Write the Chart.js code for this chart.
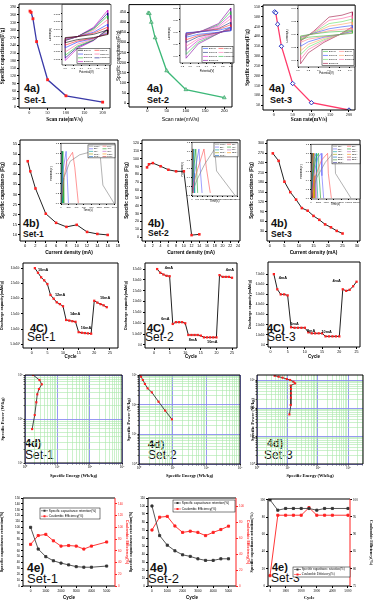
<!DOCTYPE html>
<html>
<head>
<meta charset="utf-8">
<title>Figure 4 - Set-1 / Set-2 / Set-3</title>
<script src="https://cdn.jsdelivr.net/npm/chart.js@4.4.1/dist/chart.umd.min.js"></script>
<style>
html, body { margin: 0; padding: 0; background: #fff; }
body { position: relative; width: 373px; height: 607px; overflow: hidden; }
canvas { position: absolute; }
.tag { position: absolute; font-family: "Liberation Sans", Arial, sans-serif; color: #111; line-height: 1; white-space: nowrap; }
.b { font-weight: bold; }
</style>
</head>
<body>
<div id="tags"></div>
<script>
// ---------- 4a: specific capacitance vs scan rate ----------
const scanRate = [2, 5, 10, 20, 50, 100, 200];
const cap4aSet1 = [375, 370, 345, 255, 105, 42, 17];
const cap4aSet2 = [445, 443, 400, 323, 160, 67, 27];
const cap4aSet3 = [525, 520, 462, 350, 160, 62, 25];
const scanTicks = [0, 50, 100, 150, 200];
const capTicks4a1 = [0, 30, 60, 90, 120, 150, 180, 210, 240, 270, 300, 330, 360, 390];
const capTicks4a2 = [0, 50, 100, 150, 200, 250, 300, 350, 400, 450];
const capTicks4a3 = [50, 100, 150, 200, 250, 300, 350, 400, 450, 500, 550];

// CV insets (potential V, current A), one loop per scan rate
const cvRates = ['2mV/s', '5mV/s', '10mV/s', '20mV/s', '50mV/s', '100mV/s', '200mV/s'];
const cvPot1 = [0, 0.3, 0.7, 1.05, 1.05, 0.7, 0.3, 0, 0];
const cvCur1 = [
  [-0.0005, 0, 0.0012, 0.0035, 0.0011, -0.0005, -0.0016, -0.0032, -0.0005],
  [-0.0008, 0, 0.0018, 0.005, 0.0015, -0.0008, -0.0023, -0.0045, -0.0008],
  [-0.001, 0, 0.0023, 0.0065, 0.002, -0.001, -0.0029, -0.0059, -0.001],
  [-0.0014, 0, 0.0032, 0.009, 0.0027, -0.0014, -0.004, -0.0081, -0.0014],
  [-0.0017, 0, 0.0039, 0.011, 0.0033, -0.0017, -0.005, -0.0099, -0.0017],
  [-0.0019, 0, 0.0044, 0.0125, 0.0038, -0.0019, -0.0056, -0.0113, -0.0019],
  [-0.0021, 0, 0.0049, 0.014, 0.0042, -0.0021, -0.0063, -0.0126, -0.0021]
];
const cvPot2 = [-0.1, 0.3, 0.7, 1.0, 1.0, 0.6, 0.2, -0.1, -0.1];
const cvCur2 = [
  [-0.003, 0.001, 0.007, 0.02, 0.004, -0.003, -0.01, -0.022, -0.003],
  [-0.005, 0.002, 0.011, 0.03, 0.006, -0.005, -0.015, -0.033, -0.005],
  [-0.006, 0.002, 0.014, 0.04, 0.008, -0.006, -0.02, -0.044, -0.006],
  [-0.008, 0.003, 0.019, 0.055, 0.011, -0.008, -0.028, -0.06, -0.008],
  [-0.011, 0.004, 0.025, 0.07, 0.014, -0.011, -0.035, -0.077, -0.011],
  [-0.013, 0.004, 0.03, 0.085, 0.017, -0.013, -0.043, -0.094, -0.013],
  [-0.015, 0.005, 0.035, 0.1, 0.02, -0.015, -0.05, -0.11, -0.015]
];
const cvPot3 = [0.05, 0.3, 0.6, 0.85, 1.05, 1.05, 0.8, 0.5, 0.2, 0.05, 0.05];
const cvCur3 = [
  [-0.002, 0.001, 0.004, 0.005, 0.006, 0.002, 0, -0.002, -0.004, -0.008, -0.002],
  [-0.003, 0.001, 0.006, 0.008, 0.01, 0.003, 0, -0.003, -0.007, -0.012, -0.003],
  [-0.004, 0.002, 0.009, 0.012, 0.014, 0.005, 0, -0.004, -0.011, -0.018, -0.004],
  [-0.005, 0.002, 0.013, 0.016, 0.019, 0.006, 0, -0.006, -0.015, -0.025, -0.005],
  [-0.007, 0.003, 0.017, 0.02, 0.024, 0.008, 0, -0.008, -0.019, -0.031, -0.007],
  [-0.008, 0.004, 0.022, 0.025, 0.029, 0.01, 0, -0.01, -0.023, -0.038, -0.008],
  [-0.01, 0.005, 0.027, 0.03, 0.035, 0.012, 0, -0.012, -0.028, -0.045, -0.01]
];
const cvColors1 = ['#000000', '#ff2020', '#2030ff', '#ff60a0', '#20c020', '#000080', '#c000c0'];
const cvColors2 = ['#2050ff', '#ff3030', '#203080', '#ff70b0', '#d020d0', '#20c040', '#8000a0'];
const cvColors3 = ['#40c040', '#ff8080', '#3050ff', '#ffa060', '#60e060', '#ff60a0', '#a01040'];

// ---------- 4b: specific capacitance vs current density ----------
const cd4bSet1 = [0.5, 1, 2, 4, 6, 8, 10, 12, 14, 16];
const cap4bSet1 = [46.5, 41.5, 33, 20.5, 16, 14, 15, 11.5, 10.5, 10];
const cd4bSet2 = [0.5, 1, 2, 4, 6, 8, 10, 12, 14];
const cap4bSet2 = [89, 93, 94.5, 90.5, 86, 84, 84, 2.5, 3.5];
const cd4bSet3 = [1, 3, 5, 7, 9, 11, 13, 15, 17, 19, 21, 23, 25];
const cap4bSet3 = [269, 246, 182, 150, 127, 101, 93, 77, 65, 51, 42, 31, 23];
const cdTicks1 = [0, 2, 4, 6, 8, 10, 12, 14, 16, 18];
const cdTicks2 = [0, 2, 4, 6, 8, 10, 12, 14, 16, 18, 20, 22, 24];
const cdTicks3 = [0, 5, 10, 15, 20, 25, 30];
const capTicks4b1 = [10, 15, 20, 25, 30, 35, 40, 45, 50, 55];
const capTicks4b2 = [0, 10, 20, 30, 40, 50, 60, 70, 80, 90, 100, 110, 120];
const capTicks4b3 = [30, 60, 90, 120, 150, 180, 210, 240, 270, 300];

// GCD insets (time s, potential V)
const gcdLabels1 = ['0.5mA', '1mA', '2mA', '4mA', '6mA', '8mA', '10mA', '12mA', '14mA', '16mA'];
const gcd1 = [
  [[0, 0], [70, 0.5], [240, 0.84], [490, 0.97], [740, 1.02], [1020, 1.04], [1100, 0.36], [1390, 0]],
  [[0, 0], [67, 0.45], [150, 0.84], [304, 1.02], [363, 0.71], [422, 0.25], [455, 0]],
  [[0, 0], [40, 0.6], [135, 1.04], [165, 0.5], [195, 0]],
  [[0, 0], [20, 0.6], [50, 1.04], [62, 0.5], [72, 0]],
  [[0, 0], [12, 0.6], [30, 1.04], [38, 0.5], [44, 0]],
  [[0, 0], [8, 0.6], [20, 1.04], [26, 0.5], [30, 0]],
  [[0, 0], [6, 0.6], [14, 1.04], [18, 0.5], [21, 0]],
  [[0, 0], [5, 0.6], [11, 1.04], [14, 0.5], [16, 0]],
  [[0, 0], [4, 0.6], [9, 1.04], [11, 0.5], [13, 0]],
  [[0, 0], [3, 0.6], [7, 1.04], [9, 0.5], [10, 0]]
];
const gcdLabels2 = ['0.5mA', '1mA', '2mA', '4mA', '6mA', '8mA', '10mA', '12mA', '14mA'];
const gcd2 = [
  [[0, 0.05], [400, 0.35], [1000, 0.7], [1800, 1.05], [1950, 0.55], [3400, 0]],
  [[0, 0.1], [300, 0.45], [950, 1.05], [1150, 0.6], [1450, 0.05]],
  [[0, 0.1], [200, 0.5], [550, 1.05], [680, 0.5], [800, 0.05]],
  [[0, 0.1], [100, 0.5], [300, 1.05], [380, 0.5], [450, 0.05]],
  [[0, 0.1], [50, 0.5], [150, 1.05], [180, 0.5], [210, 0.05]],
  [[0, 0.1], [30, 0.5], [90, 1.05], [110, 0.5], [130, 0.05]],
  [[0, 0.1], [20, 0.5], [60, 1.05], [75, 0.5], [90, 0.05]],
  [[0, 0.1], [15, 0.5], [45, 1.05], [55, 0.5], [65, 0.05]],
  [[0, 0.1], [10, 0.5], [35, 1.05], [42, 0.5], [50, 0.05]]
];
const gcdLabels3 = ['1mA', '3mA', '5mA', '7mA', '9mA', '11mA', '13mA', '15mA', '17mA', '19mA', '21mA', '23mA', '25mA'];
const gcd3 = [
  [[0, 0.05], [1500, 0.45], [3800, 0.8], [6000, 1.02], [6300, 1.05], [6500, 0.55], [10600, 0]],
  [[0, 0.05], [1000, 0.45], [2800, 0.85], [4400, 1.0], [4600, 0.55], [5400, 0]],
  [[0, 0.05], [600, 0.5], [1800, 0.9], [2700, 1.0], [2900, 0.5], [3350, 0]],
  [[0, 0.05], [450, 0.5], [1300, 0.9], [2000, 1.0], [2150, 0.5], [2550, 0]],
  [[0, 0.05], [300, 0.5], [900, 0.9], [1400, 1.0], [1500, 0.5], [1800, 0]],
  [[0, 0.05], [200, 0.5], [650, 0.9], [1000, 1.0], [1080, 0.5], [1300, 0]],
  [[0, 0.05], [150, 0.5], [750, 1.0], [810, 0.5], [980, 0]],
  [[0, 0.05], [120, 0.5], [580, 1.0], [630, 0.5], [760, 0]],
  [[0, 0.05], [90, 0.5], [450, 1.0], [490, 0.5], [590, 0]],
  [[0, 0.05], [70, 0.5], [350, 1.0], [380, 0.5], [460, 0]],
  [[0, 0.05], [55, 0.5], [280, 1.0], [300, 0.5], [365, 0]],
  [[0, 0.05], [45, 0.5], [220, 1.0], [240, 0.5], [290, 0]],
  [[0, 0.05], [35, 0.5], [170, 1.0], [185, 0.5], [225, 0]]
];
const gcdColors = ['#808080', '#ff5050', '#6060ff', '#20a020', '#00a0a0', '#c060c0', '#a0a000', '#ff9000', '#0060c0', '#c03030', '#309030', '#903090', '#303090'];

// ---------- 4C: discharge capacity vs cycle ----------
const cycles24 = [1, 2, 3, 4, 5, 6, 7, 8, 9, 10, 11, 12, 13, 14, 15, 16, 17, 18, 19, 20, 21, 22, 23, 24];
const cycles25 = [1, 2, 3, 4, 5, 6, 7, 8, 9, 10, 11, 12, 13, 14, 15, 16, 17, 18, 19, 20, 21, 22, 23, 24, 25];
const dis4cSet1 = [30, 28.5, 27, 26, 24.8, 21.2, 20, 18.8, 18.2, 17.5, 13, 12.8, 12.6, 12.4, 9, 8.8, 8.7, 8.6, 8.5, 19.3, 18.7, 18.2, 17.8, 17.2];
const dis4cSet2 = [35, 33.3, 32.5, 31.9, 31.7, 9.7, 10.5, 10.5, 10.5, 10, 4.6, 4.6, 4.6, 4.6, 4.3, 3.5, 3.5, 3.5, 3.5, 3.5, 32.2, 31.4, 31.4, 31.4, 31];
const dis4cSet3 = [70, 55, 50, 50, 49, 17.5, 17, 17, 17, 17, 12.5, 11.5, 11.5, 11.5, 11.5, 8.5, 8.5, 8.5, 8.5, 8.5, 55, 53.5, 54.5, 58, 62.5];
const cycTicks = [0, 5, 10, 15, 20, 25];
const disTicks1 = [5, 10, 15, 20, 25, 30];
const disTicks2 = [0, 5, 10, 15, 20, 25, 30, 35];
const disTicks3 = [0, 10, 20, 30, 40, 50, 60, 70];
const rateNotes1 = [['10mA', 2, 29.4], ['12mA', 7.4, 21.2], ['14mA', 12.2, 15], ['16mA', 15.7, 10.5], ['10mA', 21.8, 20.1]];
const rateNotes2 = [['4mA', 3.4, 35.3], ['6mA', 2.3, 12], ['8mA', 11.1, 2.3], ['10mA', 17, 1.2], ['4mA', 23, 34.6]];
const rateNotes3 = [['4mA', 2.4, 66], ['6mA', 5.8, 20.5], ['8mA', 10.6, 13.9], ['10mA', 14.8, 12.6], ['4mA', 18, 63]];

// ---------- 4d: Ragone (energy Wh/kg, power W/kg) ----------
const energy4dSet1 = [1.78, 2.8, 3.3, 2.7, 2.4, 2.24, 2.0, 1.66];
const power4dSet1 = [1000, 770, 614, 480, 364, 240, 123, 59];
const energy4dSet2 = [1.05, 1.15, 1.3, 1.5, 1.8, 2.4, 3.8, 6.0, 9.5];
const power4dSet2 = [1050, 880, 680, 500, 355, 260, 126, 63, 32];
const energy4dSet3 = [3.8, 5.1, 6.9, 9.5, 12.2, 15.7, 17.8, 12.8, 13, 13, 13, 12.8, 11.6];
const power4dSet3 = [1420, 1315, 1210, 1085, 1000, 870, 760, 630, 478, 335, 234, 128, 59];

// ---------- 4e: retention and coulombic efficiency ----------
const cyc4eSet1 = [0, 500, 1000, 1500, 2000, 2500, 3000, 3500, 4000, 5000];
const ret4eSet1 = [100, 63, 50, 43, 39, 36, 33, 32, 32, 34];
const ce4eSet1 = [71, 86, 88, 77, 68, 69, 68, 63, 68, 75];
const cyc4eSet2 = [0, 500, 1000, 1500, 2000, 2500, 3000, 3500, 4000, 4500, 5000];
const ret4eSet2 = [100, 63, 51, 44, 39, 37, 34, 32, 32, 34, 34];
const ce4eSet2 = [70, 86, 87, 75, 67, 68.5, 67, 63, 67, 70.6, 74.8];
const cyc4eSet3 = [0, 500, 1000, 1500, 2000, 2500, 3000, 3500, 4000, 5000];
const ret4eSet3 = [100, 88, 90, 90, 90, 90, 88, 90, 90, 90];
const ce4eSet3 = [78, 95.5, 95.5, 95.5, 95.5, 97.7, 95.5, 95.5, 95.5, 95.5];
const cycTicks4e = [0, 1000, 2000, 3000, 4000, 5000];
const retTicks1 = [0, 10, 20, 30, 40, 50, 60, 70, 80, 90, 100, 110, 120, 130, 140, 150];
const ceTicks1 = [0, 20, 40, 60, 80, 100, 120, 140];
const retTicks2 = [0, 10, 20, 30, 40, 50, 60, 70, 80, 90, 100, 110];
const ceTicks2 = [0, 20, 40, 60, 80, 100];
const retTicks3 = [0, 20, 40, 60, 80, 100];
const ceTicks3 = [75, 80, 85, 90, 95, 100];

// ---------- helpers ----------
const SERIF = '"Liberation Serif", "Times New Roman", serif';
const SANS = '"Liberation Sans", Arial, sans-serif';
const RED = '#ff2020';
const F = (size, family, weight) => ({ size, family, weight: weight || 'normal', lineHeight: 1.15 });
const SUP = { '-': '⁻', '0': '⁰', '1': '¹', '2': '²', '3': '³', '4': '⁴', '5': '⁵', '6': '⁶', '7': '⁷', '8': '⁸', '9': '⁹' };
const sup = n => String(n).split('').map(ch => SUP[ch]).join('');
const isPow10 = v => v > 0 && Math.abs(Math.log10(v) - Math.round(Math.log10(v))) < 1e-6;
const pow10Label = v => isPow10(v) ? '10' + sup(Math.round(Math.log10(v))) : '';
const sci = v => {
  if (v === 0) return '0.0';
  const e = Math.floor(Math.log10(v) + 1e-9);
  return (v / Math.pow(10, e)).toFixed(1) + 'x10' + sup(e);
};

function pts(xs, ys) { return xs.map((x, i) => ({ x, y: ys[i] })); }
function pairPts(p) { return p.map(([x, y]) => ({ x, y })); }

function axis(o) {
  return {
    type: 'linear', position: o.pos, min: o.min, max: o.max,
    afterBuildTicks: s => { s.ticks = o.ticks.map(v => ({ value: v })); },
    ticks: { autoSkip: false, maxRotation: 0, font: o.lf, color: o.color || '#000', padding: o.pad === undefined ? 1 : o.pad, callback: o.fmt || (v => v) },
    grid: { drawOnChartArea: false, tickLength: o.tl || 2, color: o.color || '#000' },
    border: { display: false },
    title: { display: !!o.title, text: o.title, font: o.tf, color: o.tcolor || o.color || '#000', padding: 0 }
  };
}

function logAxis(o) {
  const list = [];
  for (let e = o.e0; e < o.e1; e++) for (let k = 1; k < 10; k++) list.push(k * Math.pow(10, e));
  list.push(Math.pow(10, o.e1));
  const ticks = list.filter(v => v >= o.min * 0.999 && v <= o.max * 1.001);
  return {
    type: 'logarithmic', position: o.pos, min: o.min, max: o.max,
    afterBuildTicks: s => { s.ticks = ticks.map(v => ({ value: v })); },
    ticks: { autoSkip: false, maxRotation: 0, font: o.lf, color: '#000', padding: 1, callback: v => pow10Label(v) },
    grid: {
      drawOnChartArea: true, tickLength: 1.5, tickColor: '#000',
      color: c => isPow10(c.tick && c.tick.value) ? '#8c8cf2' : '#a9e8a9',
      lineWidth: c => isPow10(c.tick && c.tick.value) ? 0.9 : 0.6
    },
    border: { display: false },
    title: { display: true, text: o.title, font: o.tf, color: '#000', padding: 0 }
  };
}

function drawLegend(c, a, L) {
  const x0 = a.left + L.x, y0 = a.top + L.y;
  c.fillStyle = '#fff'; c.fillRect(x0, y0, L.w, L.h);
  c.strokeStyle = '#000'; c.lineWidth = 0.5; c.strokeRect(x0, y0, L.w, L.h);
  const cols = L.cols || 1, rows = Math.ceil(L.items.length / cols);
  const cw = L.w / cols, rh = L.h / rows;
  c.font = L.font; c.textBaseline = 'middle'; c.textAlign = 'left';
  L.items.forEach((it, i) => {
    const col = i % cols, row = Math.floor(i / cols);
    const cx = x0 + col * cw + 1, cy = y0 + row * rh + rh / 2;
    c.strokeStyle = it.c; c.lineWidth = L.lw || 0.6;
    c.beginPath(); c.moveTo(cx, cy); c.lineTo(cx + L.sw, cy); c.stroke();
    if (L.m) { c.fillStyle = it.c; c.fillRect(cx + L.sw / 2 - L.m, cy - L.m, 2 * L.m, 2 * L.m); }
    c.fillStyle = '#000'; c.fillText(it.t, cx + L.sw + 0.8, cy);
  });
}

function makeDeco(o) {
  return {
    id: 'deco',
    beforeDraw(ch) {
      if (!o.bg) return;
      const a = ch.chartArea, c = ch.ctx;
      c.save(); c.fillStyle = '#fff'; c.fillRect(a.left, a.top, a.right - a.left, a.bottom - a.top); c.restore();
    },
    afterDraw(ch) {
      const a = ch.chartArea, c = ch.ctx;
      c.save();
      c.lineWidth = o.frame || 1;
      c.strokeStyle = '#000';
      c.beginPath();
      c.moveTo(a.right, a.top); c.lineTo(a.left, a.top); c.lineTo(a.left, a.bottom); c.lineTo(a.right, a.bottom);
      c.stroke();
      c.strokeStyle = o.rightColor || '#000';
      c.beginPath(); c.moveTo(a.right, a.top); c.lineTo(a.right, a.bottom); c.stroke();
      (o.notes || []).forEach(([t, x, y]) => {
        c.font = o.noteFont; c.fillStyle = '#000'; c.textAlign = 'left'; c.textBaseline = 'middle';
        c.fillText(t, ch.scales.x.getPixelForValue(x), ch.scales.y.getPixelForValue(y));
      });
      if (o.legend) drawLegend(c, a, o.legend);
      c.restore();
    }
  };
}

// cell = canvas rectangle, area = wanted plot rectangle (page px)
function chart(cell, area, datasets, scales, deco) {
  const cv = document.createElement('canvas');
  cv.width = cell.w; cv.height = cell.h;
  cv.style.left = cell.x + 'px'; cv.style.top = cell.y + 'px';
  cv.style.width = cell.w + 'px'; cv.style.height = cell.h + 'px';
  document.body.appendChild(cv);
  const L = area.l - cell.x, T = area.t - cell.y, R = cell.x + cell.w - area.r, B = cell.y + cell.h - area.b;
  scales.x.afterFit = s => { s.height = B; };
  scales.y.afterFit = s => { s.width = L; };
  if (scales.y1) scales.y1.afterFit = s => { s.width = R; };
  return new Chart(cv, {
    type: 'scatter',
    data: { datasets },
    options: {
      responsive: false, animation: false, devicePixelRatio: 1,
      layout: { padding: { top: T, right: scales.y1 ? 0 : R, left: 0, bottom: 0 } },
      scales,
      plugins: { legend: { display: false }, tooltip: { enabled: false } }
    },
    plugins: [makeDeco(deco || {})]
  });
}

function line(data, s) {
  return Object.assign({ data, showLine: true, borderWidth: 1, pointRadius: 0, tension: 0 }, s);
}
const redSq = { pointStyle: 'rect', pointRadius: 1.8, pointBackgroundColor: RED, pointBorderColor: RED, pointBorderWidth: 0 };

function tag(text, x, y, size, bold) {
  const d = document.createElement('div');
  d.className = 'tag' + (bold ? ' b' : '');
  d.textContent = text;
  d.style.left = x + 'px'; d.style.top = y + 'px'; d.style.fontSize = size + 'px';
  document.getElementById('tags').appendChild(d);
}

// ---------- row 1: 4a ----------
chart({ x: 0, y: 0, w: 122, h: 123 }, { l: 19, t: 4, r: 110, b: 108 },
  [line(pts(scanRate, cap4aSet1), Object.assign({ borderColor: '#3a3aa8', borderWidth: 1.3 }, redSq, { pointRadius: 2 }))],
  {
    x: axis({ min: -28, max: 220, ticks: scanTicks, title: 'Scan rate(mV/s)', tf: F(5.3, SERIF, 'bold'), lf: F(4.2, SERIF), pad: 0 }),
    y: axis({ min: -6, max: 403, ticks: capTicks4a1, title: 'Specific capacitance(F/g)', tf: F(5.3, SERIF, 'bold'), lf: F(4, SERIF) })
  });
chart({ x: 116, y: 0, w: 129, h: 123 }, { l: 129, t: 2, r: 232, b: 107 },
  [line(pts(scanRate, cap4aSet2), { borderColor: '#3cb878', borderWidth: 1.3, pointStyle: 'triangle', pointRadius: 2.2, pointBackgroundColor: '#90d8a8', pointBorderColor: '#2a9a60', pointBorderWidth: 0.6 })],
  {
    x: axis({ min: -48, max: 220, ticks: scanTicks, title: 'Scan rate(mV/s)', tf: F(5.2, SANS), lf: F(4, SANS), pad: 0 }),
    y: axis({ min: -19, max: 487, ticks: capTicks4a2, title: 'Specific capacitance(F/g)', tf: F(4.5, SANS), lf: F(3.8, SANS) })
  });
chart({ x: 245, y: 0, w: 128, h: 123 }, { l: 263, t: 4, r: 355, b: 110 },
  [line(pts(scanRate, cap4aSet3), { borderColor: '#ff3a6a', borderWidth: 1.3, pointStyle: 'rectRot', pointRadius: 2.2, pointBackgroundColor: '#ffffff', pointBorderColor: '#2030c0', pointBorderWidth: 1 })],
  {
    x: axis({ min: -29, max: 216, ticks: scanTicks, title: 'Scan rate(mV/s)', tf: F(5.3, SERIF, 'bold'), lf: F(4.2, SERIF), pad: 0 }),
    y: axis({ min: 25, max: 560, ticks: capTicks4a3, title: 'Specific capacitance(F/g)', tf: F(5.3, SERIF, 'bold'), lf: F(4, SERIF) })
  });

function cvInset(cell, area, pot, loops, colors, xr, yr, xt, yt, dig, leg) {
  const ds = loops.map((ys, i) => line(pts(pot, ys), { borderColor: colors[i], borderWidth: 0.6 }));
  chart(cell, area, ds, {
    x: axis({ min: xr[0], max: xr[1], ticks: xt, title: 'Potential(V)', tf: F(2.8, SANS), lf: F(2.5, SANS), tl: 1, fmt: v => v.toFixed(1) }),
    y: axis({ min: yr[0], max: yr[1], ticks: yt, title: 'Current(A)', tf: F(2.8, SANS), lf: F(2.5, SANS), tl: 1, fmt: v => v.toFixed(dig) })
  }, { bg: true, frame: 0.6, legend: Object.assign({ cols: 2, sw: 5, font: '2.4px ' + SANS, items: cvRates.map((t, i) => ({ t, c: colors[i] })) }, leg) });
}
cvInset({ x: 49, y: 2, w: 64, h: 72 }, { l: 62, t: 4, r: 111, b: 65 }, cvPot1, cvCur1, cvColors1,
  [-0.08, 1.13], [-0.015, 0.017], [0, 0.2, 0.4, 0.6, 0.8, 1.0], [-0.012, -0.008, -0.004, 0, 0.004, 0.008, 0.012], 3,
  { x: 15, y: 44, w: 33, h: 15 });
cvInset({ x: 168, y: 2, w: 67, h: 71 }, { l: 180, t: 4, r: 234, b: 63 }, cvPot2, cvCur2, cvColors2,
  [-0.25, 1.08], [-0.13, 0.115], [-0.2, 0, 0.2, 0.4, 0.6, 0.8, 1.0], [-0.1, -0.05, 0, 0.05, 0.1], 2,
  { x: 22, y: 42, w: 31, h: 16 });
cvInset({ x: 286, y: 3, w: 70, h: 72 }, { l: 298, t: 5, r: 355, b: 67 }, cvPot3, cvCur3, cvColors3,
  [0, 1.1], [-0.05, 0.045], [0, 0.2, 0.4, 0.6, 0.8, 1.0], [-0.04, -0.02, 0, 0.02, 0.04], 2,
  { x: 24, y: 44, w: 32, h: 16 });

// ---------- row 2: 4b ----------
const blackLine = { borderColor: '#222', borderWidth: 1 };
chart({ x: 0, y: 127, w: 122, h: 128 }, { l: 20, t: 140, r: 120, b: 241 },
  [line(pts(cd4bSet1, cap4bSet1), Object.assign({}, blackLine, redSq))],
  {
    x: axis({ min: -1, max: 18, ticks: cdTicks1, title: 'Current density (mA)', tf: F(4.8, SANS, 'bold'), lf: F(4, SANS) }),
    y: axis({ min: 7, max: 57, ticks: capTicks4b1, title: 'Specific capacitance (F/g)', tf: F(4.6, SANS, 'bold'), lf: F(3.8, SANS) })
  });
chart({ x: 124, y: 127, w: 121, h: 128 }, { l: 142, t: 140, r: 240, b: 241 },
  [line(pts(cd4bSet2, cap4bSet2), Object.assign({}, blackLine, redSq))],
  {
    x: axis({ min: -0.8, max: 24.5, ticks: cdTicks2, title: 'Current density (mA)', tf: F(4.8, SANS, 'bold'), lf: F(3.6, SANS) }),
    y: axis({ min: -5, max: 124, ticks: capTicks4b2, title: 'Specific capacitance (F/g)', tf: F(4.6, SANS, 'bold'), lf: F(3.6, SANS) })
  });
chart({ x: 249, y: 127, w: 124, h: 128 }, { l: 267, t: 140, r: 360, b: 241 },
  [line(pts(cd4bSet3, cap4bSet3), Object.assign({}, blackLine, redSq))],
  {
    x: axis({ min: -1, max: 31, ticks: cdTicks3, title: 'Current density (mA)', tf: F(4.8, SANS, 'bold'), lf: F(4, SANS) }),
    y: axis({ min: 0, max: 310, ticks: capTicks4b3, title: 'Specific capacitance (F/g)', tf: F(4.6, SANS, 'bold'), lf: F(3.6, SANS) })
  });

function gcdInset(cell, area, curves, labels, xr, xt, leg) {
  const ds = curves.map((p, i) => line(pairPts(p), { borderColor: gcdColors[i], borderWidth: 0.6 }));
  chart(cell, area, ds, {
    x: axis({ min: xr[0], max: xr[1], ticks: xt, title: 'Time(s)', tf: F(2.8, SANS), lf: F(2.4, SANS), tl: 1 }),
    y: axis({ min: -0.02, max: 1.2, ticks: [0, 0.2, 0.4, 0.6, 0.8, 1.0, 1.2], title: 'Potential(V)', tf: F(2.8, SANS), lf: F(2.4, SANS), tl: 1, fmt: v => v.toFixed(1) })
  }, { bg: true, frame: 0.6, legend: Object.assign({ cols: 2, sw: 4, font: '2.2px ' + SANS, items: labels.map((t, i) => ({ t, c: gcdColors[i] })) }, leg) });
}
gcdInset({ x: 50, y: 141, w: 68, h: 71 }, { l: 61, t: 143, r: 116, b: 204 }, gcd1, gcdLabels1,
  [0, 1420], [0, 200, 400, 600, 800, 1000, 1200, 1400], { x: 27, y: 1.5, w: 27, h: 13 });
gcdInset({ x: 181, y: 140, w: 60, h: 63 }, { l: 192, t: 142, r: 239, b: 196 }, gcd2, gcdLabels2,
  [0, 3600], [0, 400, 800, 1200, 1600, 2000, 2400, 2800, 3200, 3600], { x: 22, y: 0.5, w: 24, h: 14 });
gcdInset({ x: 300, y: 142, w: 62, h: 64 }, { l: 311, t: 144, r: 360, b: 199 }, gcd3, gcdLabels3,
  [0, 13000], [0, 2000, 4000, 6000, 8000, 10000, 12000], { x: 21, y: 0.5, w: 28, h: 19 });

// ---------- row 3: 4C ----------
const disTitle = 'Discharge capacity(mAh/g)';
chart({ x: 0, y: 258, w: 122, h: 101 }, { l: 23, t: 263, r: 118, b: 348 },
  [line(pts(cycles24, dis4cSet1), Object.assign({}, blackLine, redSq, { pointRadius: 1.6 }))],
  {
    x: axis({ min: -2.8, max: 27.6, ticks: cycTicks, title: 'Cycle', tf: F(4.5, SANS, 'bold'), lf: F(3.6, SANS) }),
    y: axis({ min: 3.8, max: 31.7, ticks: disTicks1, title: disTitle, tf: F(3.8, SANS, 'bold'), lf: F(2.8, SANS), fmt: sci })
  }, { notes: rateNotes1, noteFont: 'bold 3.8px ' + SANS });
chart({ x: 124, y: 258, w: 121, h: 101 }, { l: 145, t: 263, r: 237, b: 348 },
  [line(pts(cycles25, dis4cSet2), Object.assign({}, blackLine, redSq, { pointRadius: 1.6 }))],
  {
    x: axis({ min: -2.9, max: 26.6, ticks: cycTicks, title: 'Cycle', tf: F(4.5, SANS, 'bold'), lf: F(3.6, SANS) }),
    y: axis({ min: -1.4, max: 37.8, ticks: disTicks2, title: disTitle, tf: F(3.8, SANS, 'bold'), lf: F(2.8, SANS), fmt: sci })
  }, { notes: rateNotes2, noteFont: 'bold 3.8px ' + SANS });
chart({ x: 248, y: 258, w: 125, h: 101 }, { l: 268, t: 262, r: 360, b: 347 },
  [line(pts(cycles25, dis4cSet3), Object.assign({}, blackLine, redSq, { pointRadius: 1.6 }))],
  {
    x: axis({ min: -0.7, max: 26, ticks: cycTicks, title: 'Cycle', tf: F(4.5, SANS, 'bold'), lf: F(3.6, SANS) }),
    y: axis({ min: -2, max: 82, ticks: disTicks3, title: disTitle, tf: F(3.8, SANS, 'bold'), lf: F(2.8, SANS), fmt: sci })
  }, { notes: rateNotes3, noteFont: 'bold 3.8px ' + SANS });

// ---------- row 4: 4d ----------
const ragLine = Object.assign({ borderColor: '#333', borderWidth: 0.9 }, redSq, { pointRadius: 1.5 });
const eTitle = 'Specific Energy (Wh/kg)', pTitle = 'Specific Power (W/kg)';
chart({ x: 0, y: 366, w: 126, h: 112 }, { l: 25, t: 375, r: 125, b: 463 },
  [line(pts(energy4dSet1, power4dSet1), ragLine)],
  {
    x: logAxis({ min: 1, max: 1000, e0: 0, e1: 3, title: eTitle, tf: F(4.5, SERIF, 'bold'), lf: F(3.5, SERIF) }),
    y: logAxis({ min: 10, max: 1000, e0: 1, e1: 3, title: pTitle, tf: F(4.5, SERIF, 'bold'), lf: F(3.5, SERIF) })
  });
chart({ x: 126, y: 366, w: 124, h: 112 }, { l: 139, t: 375, r: 240, b: 464 },
  [line(pts(energy4dSet2, power4dSet2), ragLine)],
  {
    x: logAxis({ min: 1, max: 1000, e0: 0, e1: 3, title: eTitle, tf: F(4.5, SERIF, 'bold'), lf: F(3.5, SERIF) }),
    y: logAxis({ min: 1, max: 1000, e0: 0, e1: 3, title: pTitle, tf: F(4.5, SERIF, 'bold'), lf: F(3.5, SERIF) })
  });
chart({ x: 250, y: 366, w: 123, h: 112 }, { l: 257, t: 375, r: 363, b: 464 },
  [line(pts(energy4dSet3, power4dSet3), ragLine)],
  {
    x: logAxis({ min: 1, max: 3020, e0: 0, e1: 4, title: eTitle, tf: F(4.5, SERIF, 'bold'), lf: F(3.5, SERIF) }),
    y: logAxis({ min: 1, max: 1510, e0: 0, e1: 4, title: pTitle, tf: F(4.5, SERIF, 'bold'), lf: F(3.5, SERIF) })
  });

// ---------- row 5: 4e ----------
const retStyle = { borderColor: '#444', borderWidth: 0.9, pointStyle: 'rect', pointRadius: 1.5, pointBackgroundColor: '#333', pointBorderColor: '#333', yAxisID: 'y' };
const ceStyle = { borderColor: RED, borderWidth: 0.9, pointStyle: 'rect', pointRadius: 1.5, pointBackgroundColor: RED, pointBorderColor: RED, yAxisID: 'y1' };
const retTitle = 'Specific capacitance retention(%)', ceTitle = 'Coulombic Efficiency(%)';
const legItems = [{ t: retTitle, c: '#333' }, { t: ceTitle, c: RED }];
chart({ x: 0, y: 484, w: 129, h: 116 }, { l: 23, t: 498, r: 115, b: 586 },
  [line(pts(cyc4eSet1, ret4eSet1), retStyle), line(pts(cyc4eSet1, ce4eSet1), ceStyle)],
  {
    x: axis({ min: -500, max: 5550, ticks: cycTicks4e, title: 'Cycle', tf: F(4.5, SANS, 'bold'), lf: F(3.2, SANS) }),
    y: axis({ min: 0, max: 150, ticks: retTicks1, title: retTitle, tf: F(3.8, SANS, 'bold'), lf: F(3, SANS) }),
    y1: axis({ pos: 'right', min: 0, max: 150, ticks: ceTicks1, title: ceTitle, tf: F(3.8, SANS, 'bold'), lf: F(3, SANS), color: RED })
  }, { rightColor: RED, legend: { x: 17, y: 10, w: 60, h: 11, sw: 7, m: 1, font: '3.2px ' + SANS, items: legItems } });
chart({ x: 129, y: 484, w: 121, h: 116 }, { l: 148, t: 498, r: 236, b: 586 },
  [line(pts(cyc4eSet2, ret4eSet2), retStyle), line(pts(cyc4eSet2, ce4eSet2), ceStyle)],
  {
    x: axis({ min: -260, max: 5490, ticks: cycTicks4e, title: 'Cycle', tf: F(4.5, SANS, 'bold'), lf: F(3.2, SANS) }),
    y: axis({ min: 0, max: 110, ticks: retTicks2, title: retTitle, tf: F(3.8, SANS, 'bold'), lf: F(3, SANS) }),
    y1: axis({ pos: 'right', min: 0, max: 110, ticks: ceTicks2, title: ceTitle, tf: F(3.8, SANS, 'bold'), lf: F(3, SANS), color: RED })
  }, { rightColor: RED, legend: { x: 25, y: 2, w: 62, h: 12, sw: 7, m: 1, font: '3.2px ' + SANS, items: legItems } });
chart({ x: 250, y: 484, w: 123, h: 116 }, { l: 268, t: 499, r: 350, b: 586 },
  [line(pts(cyc4eSet3, ret4eSet3), retStyle), line(pts(cyc4eSet3, ce4eSet3), ceStyle)],
  {
    x: axis({ min: -130, max: 5130, ticks: cycTicks4e, title: 'Cycle', tf: F(4.5, SERIF, 'bold'), lf: F(3.4, SERIF) }),
    y: axis({ min: 0, max: 101, ticks: retTicks3, title: retTitle, tf: F(4.2, SERIF, 'bold'), lf: F(3.2, SERIF) }),
    y1: axis({ pos: 'right', min: 75, max: 100.2, ticks: ceTicks3, title: ceTitle, tf: F(4.2, SERIF, 'bold'), lf: F(3.2, SERIF), tcolor: '#000' })
  }, { rightColor: RED, legend: { x: 25, y: 68, w: 57, h: 10, sw: 7, m: 1, font: '3.2px ' + SERIF, items: legItems } });

// ---------- panel tags ----------
tag('4a)', 24, 83, 11, true); tag('Set-1', 24, 96, 9, true);
tag('4a)', 147, 83, 11, true); tag('Set-2', 147, 96, 9, true);
tag('4a)', 269, 83, 11, true); tag('Set-3', 270, 96, 9, true);
tag('4b)', 23, 218, 11, true); tag('Set-1', 23, 230, 8.5, true);
tag('4b)', 148, 218, 11, true); tag('Set-2', 148, 229, 8.5, true);
tag('4b)', 271, 218, 11, true); tag('Set-3', 271, 230, 8.5, true);
tag('4C)', 30, 323, 11, true); tag('Set-1', 27, 331, 12, false);
tag('4C)', 147, 323, 11, true); tag('Set-2', 145, 331, 12, false);
tag('4C)', 267, 323, 11, true); tag('Set-3', 267, 331, 12, false);
tag('4d)', 25, 438, 11, true); tag('Set-1', 25, 449, 12, false);
tag('4d)', 148, 439, 11, true); tag('Set-2', 148, 449, 12, false);
tag('4d)', 267, 438, 11, true); tag('Set-3', 264, 449, 12, false);
tag('4e)', 27, 562, 12, true); tag('Set-1', 27, 572, 13, false);
tag('4e)', 150, 562, 12, true); tag('Set-2', 148, 572, 13, false);
tag('4e)', 272, 562, 11, true); tag('Set-3', 271, 572, 12, false);
</script>
</body>
</html>
